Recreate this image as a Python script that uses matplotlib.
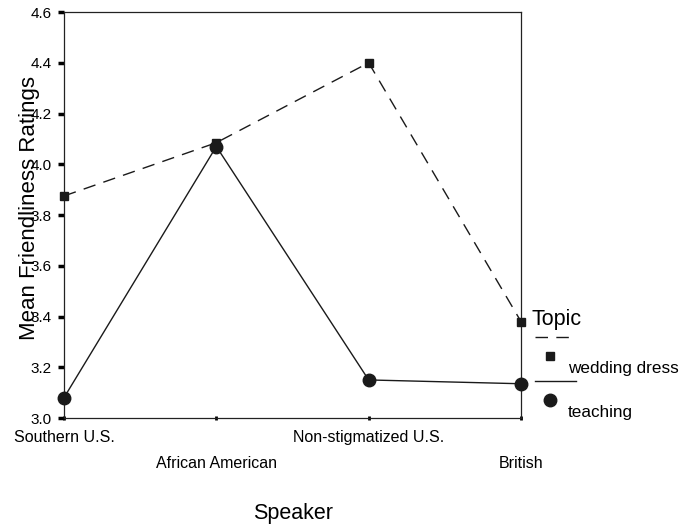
import matplotlib.pyplot as plt
from matplotlib.lines import Line2D

# mean friendliness ratings by speaker and topic
speakers = ['Southern U.S.', 'African American', 'Non-stigmatized U.S.', 'British']
wedding_dress = [3.875, 4.085, 4.40, 3.38]
teaching = [3.08, 4.07, 3.15, 3.135]
yticks = [3.0, 3.2, 3.4, 3.6, 3.8, 4.0, 4.2, 4.4, 4.6]


def main():
    plt.rcParams['font.family'] = ['Liberation Sans', 'DejaVu Sans']

    fig = plt.figure(figsize=(6.85, 5.25), dpi=100)
    ax = fig.add_axes([0.0934, 0.2038, 0.6672, 0.7733])

    x = list(range(len(speakers)))
    ax.plot(x, wedding_dress, color='#1a1a1a', lw=1.0, dashes=(9, 6),
            marker='s', markersize=6, clip_on=False, zorder=3)
    ax.plot(x, teaching, color='#1a1a1a', lw=1.0, linestyle='-',
            marker='o', markersize=9, clip_on=False, zorder=3)

    ax.set_xlim(0, 3)
    ax.set_ylim(3.0, 4.6)
    ax.set_yticks(yticks)
    ax.set_yticklabels([f'{v:.1f}' for v in yticks], fontsize=11)

    # staggered category labels: major row and lower (minor) row
    ax.set_xticks(x[0::2])
    ax.set_xticklabels(speakers[0::2], fontsize=11.5)
    ax.set_xticks(x[1::2], minor=True)
    ax.set_xticklabels(speakers[1::2], minor=True, fontsize=11.5)
    ax.tick_params(axis='x', which='major', direction='inout', length=3, width=2, pad=7)
    ax.tick_params(axis='x', which='minor', direction='inout', length=3, width=2, pad=26)
    ax.tick_params(axis='y', direction='out', length=4, width=2.5, pad=5)

    for sp in ax.spines.values():
        sp.set_linewidth(0.9)
        sp.set_color('#222222')

    ax.set_ylabel('Mean Friendliness Ratings', fontsize=16)
    ax.yaxis.set_label_coords(-0.052, 0.517)
    fig.text(293 / 685, 1 - 513 / 525, 'Speaker', fontsize=15.5, ha='center', va='center')

    # SPSS-style legend outside the plot
    W, H = 685, 525
    fig.text(531 / W, 1 - 320 / H, 'Topic', fontsize=15.5, ha='left', va='center')
    fig.add_artist(Line2D([535 / W, 576 / W], [1 - 337 / H, 1 - 337 / H], color='#1a1a1a',
                          lw=1.0, dashes=(9, 6), transform=fig.transFigure))
    fig.add_artist(Line2D([550 / W], [1 - 356 / H], color='#1a1a1a', marker='s', markersize=6,
                          linestyle='none', transform=fig.transFigure))
    fig.text(568 / W, 1 - 369 / H, 'wedding dress', fontsize=12.3, ha='left', va='center')
    fig.add_artist(Line2D([535 / W, 576 / W], [1 - 381 / H, 1 - 381 / H], color='#1a1a1a',
                          lw=1.0, transform=fig.transFigure))
    fig.add_artist(Line2D([550 / W], [1 - 400 / H], color='#1a1a1a', marker='o', markersize=9,
                          linestyle='none', transform=fig.transFigure))
    fig.text(568 / W, 1 - 413 / H, 'teaching', fontsize=12.3, ha='left', va='center')

    fig.savefig('out.png', dpi=100)


if __name__ == '__main__':
    main()
